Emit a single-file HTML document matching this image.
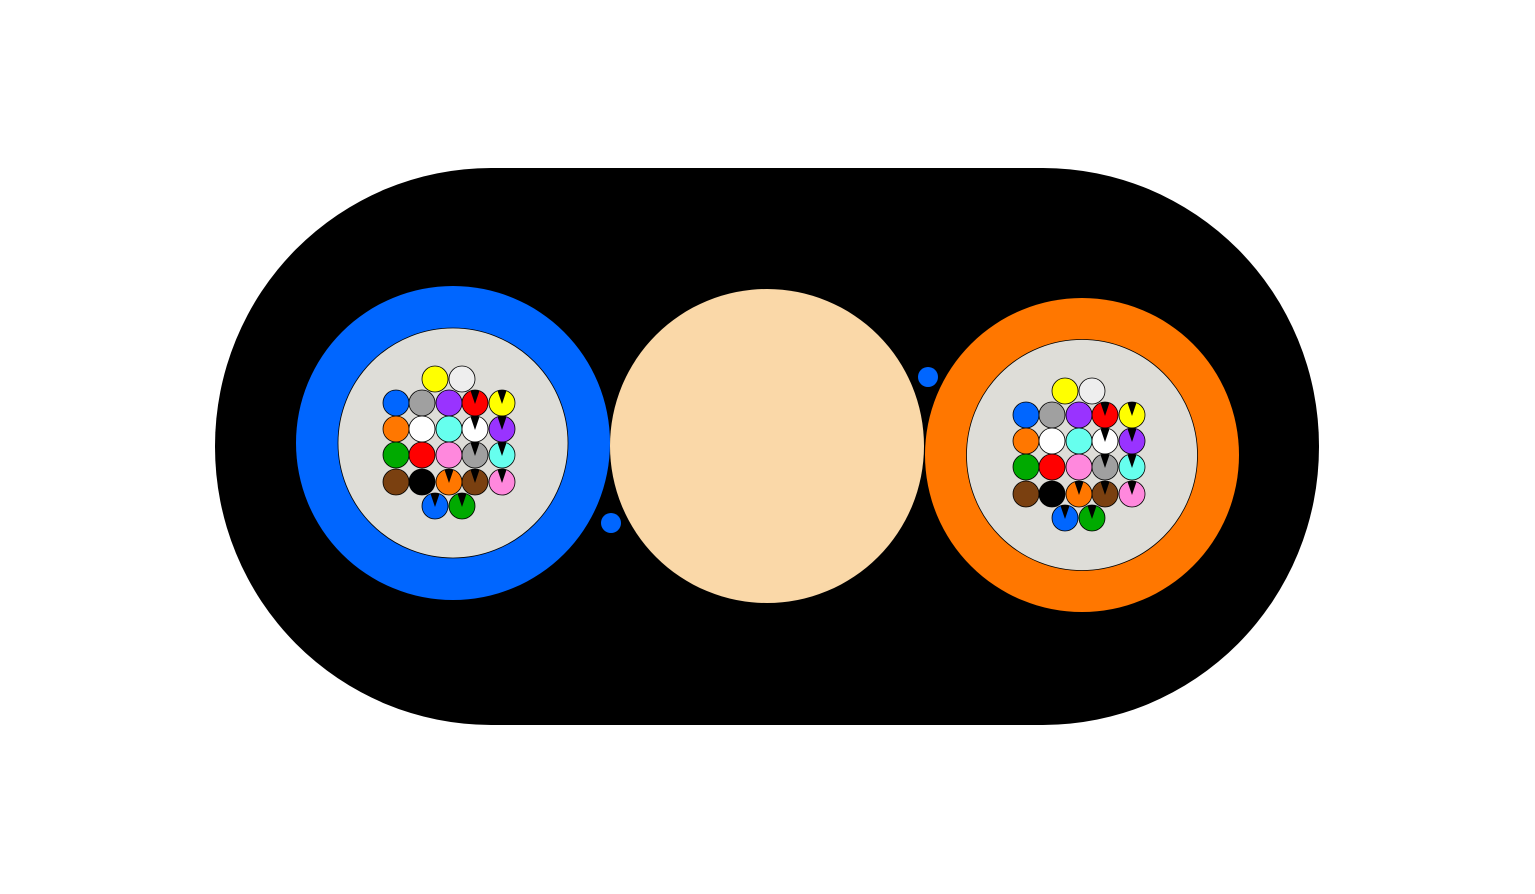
<!DOCTYPE html>
<html><head><style>html,body{margin:0;padding:0;background:#fff}svg{display:block}</style></head>
<body>
<svg width="1535" height="894" viewBox="0 0 1535 894" xmlns="http://www.w3.org/2000/svg">
<defs>
<path id="w" d="M0,1 L-4.5,-12.2 A13,13 0 0 1 4.5,-12.2 Z" fill="#000"/>
<g id="bundle" stroke="#000" stroke-width="0.8">
<circle cx="435" cy="379" r="13" fill="#ffff00"/>
<circle cx="462" cy="379" r="13" fill="#eeeeee"/>
<circle cx="396" cy="403" r="13" fill="#0066ff"/>
<circle cx="422" cy="403" r="13" fill="#a0a0a0"/>
<circle cx="449" cy="403" r="13" fill="#9933ff"/>
<circle cx="475" cy="403" r="13" fill="#ff0000"/>
<circle cx="502" cy="403" r="13" fill="#ffff00"/>
<circle cx="396" cy="429" r="13" fill="#ff7700"/>
<circle cx="422" cy="429" r="13" fill="#ffffff"/>
<circle cx="449" cy="429" r="13" fill="#66ffee"/>
<circle cx="475" cy="429" r="13" fill="#ffffff"/>
<circle cx="502" cy="429" r="13" fill="#9933ff"/>
<circle cx="396" cy="455" r="13" fill="#00aa00"/>
<circle cx="422" cy="455" r="13" fill="#ff0000"/>
<circle cx="449" cy="455" r="13" fill="#ff88dd"/>
<circle cx="475" cy="455" r="13" fill="#a0a0a0"/>
<circle cx="502" cy="455" r="13" fill="#66ffee"/>
<circle cx="396" cy="482" r="13" fill="#7a4010"/>
<circle cx="422" cy="482" r="13" fill="#000000"/>
<circle cx="449" cy="482" r="13" fill="#ff7700"/>
<circle cx="475" cy="482" r="13" fill="#7a4010"/>
<circle cx="502" cy="482" r="13" fill="#ff88dd"/>
<circle cx="435" cy="506" r="13" fill="#0066ff"/>
<circle cx="462" cy="506" r="13" fill="#00aa00"/>
</g>
<g id="marks">
<use href="#w" x="475" y="403"/><use href="#w" x="502" y="403"/>
<use href="#w" x="475" y="429"/><use href="#w" x="502" y="429"/>
<use href="#w" x="475" y="455"/><use href="#w" x="502" y="455"/>
<use href="#w" x="449" y="482"/><use href="#w" x="475" y="482"/><use href="#w" x="502" y="482"/>
<use href="#w" x="435" y="506"/><use href="#w" x="462" y="506"/>
</g>
</defs>
<rect x="215" y="168" width="1104" height="557" rx="276" ry="278" fill="#000"/>
<circle cx="453" cy="443" r="157" fill="#0066ff"/>
<circle cx="453" cy="443" r="115" fill="#deddd8" stroke="#000" stroke-width="0.8"/>
<circle cx="767" cy="446" r="157" fill="#fad8a8"/>
<circle cx="1082" cy="455" r="157" fill="#ff7700"/>
<circle cx="1082" cy="455" r="115.5" fill="#deddd8" stroke="#000" stroke-width="0.8"/>
<circle cx="611" cy="523" r="10" fill="#0066ff"/>
<circle cx="928" cy="377" r="10" fill="#0066ff"/>
<use href="#bundle"/><use href="#marks"/>
<g transform="translate(630,12)"><use href="#bundle"/><use href="#marks"/></g>
</svg>
</body></html>
